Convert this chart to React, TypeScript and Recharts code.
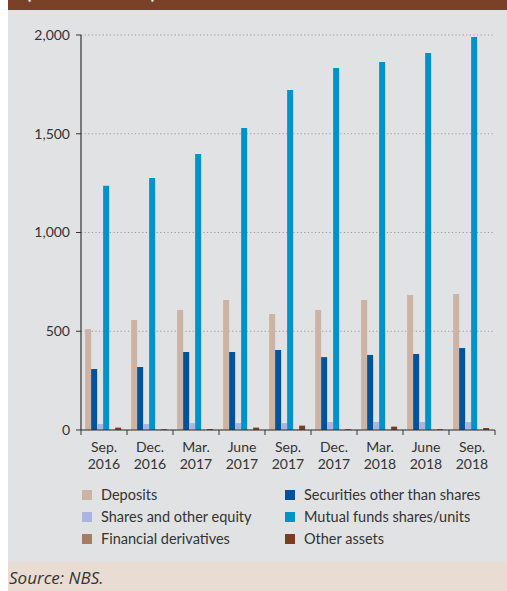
import React from "react";
import { BarChart, Bar, XAxis, YAxis, CartesianGrid } from "recharts";

const months = ["Sep.", "Dec.", "Mar.", "June", "Sep.", "Dec.", "Mar.", "June", "Sep."];
const years = ["2016", "2016", "2017", "2017", "2017", "2017", "2018", "2018", "2018"];

const deposits = [511, 557, 608, 658, 587, 608, 658, 683, 689];
const securities = [309, 319, 395, 395, 405, 369, 380, 385, 415];
const shares = [30, 30, 35, 35, 35, 40, 40, 40, 40];
const mutualFunds = [1237, 1276, 1397, 1529, 1722, 1833, 1863, 1909, 1990];
const derivatives = [1, 2, 1, 1, 2, 1, 1, 2, 1];
const otherAssets = [12, 4, 5, 12, 22, 4, 17, 4, 10];

const yTicks = [0, 500, 1000, 1500, 2000];

const seriesNames = [
  "Deposits",
  "Securities other than shares",
  "Shares and other equity",
  "Mutual funds shares/units",
  "Financial derivatives",
  "Other assets",
];
const seriesKeys = ["dep", "sec", "sha", "mf", "der", "oth"];
const seriesColors = ["#CDB3A4", "#00529B", "#A8B6DF", "#0093CB", "#A77C67", "#7C3B22"];

const data = months.map((m, i) => ({
  cat: m + "|" + years[i],
  dep: deposits[i],
  sec: securities[i],
  sha: shares[i],
  mf: mutualFunds[i],
  der: derivatives[i],
  oth: otherAssets[i],
}));

const FONT = "Lato, 'Noto Sans', sans-serif";
const TEXT = "#333333";

const XTick = (props: any) => {
  const { x, y, payload, index, visibleTicksCount } = props;
  const off = payload && typeof payload.offset === "number" ? payload.offset : 0;
  const [m, yr] = String(payload.value).split("|");
  const last = index === (visibleTicksCount ?? 9) - 1;
  return (
    <g>
      <line x1={x - off} x2={x - off} y1={y} y2={y + 5} stroke="#333" strokeWidth={1} />
      {last && <line x1={x + off} x2={x + off} y1={y} y2={y + 5} stroke="#333" strokeWidth={1} />}
      <text x={x} y={y + 22} textAnchor="middle" fontSize={14} fill={TEXT} fontFamily={FONT}>
        {m}
      </text>
      <text x={x} y={y + 39} textAnchor="middle" fontSize={14} fill={TEXT} fontFamily={FONT}>
        {yr}
      </text>
    </g>
  );
};

export default function App() {
  const legendOrder = [0, 1, 2, 3, 4, 5];
  return (
    <div
      style={{
        position: "absolute",
        left: 8,
        top: 0,
        width: 499,
        height: 591,
        background: "#E1E2E4",
        fontFamily: FONT,
        overflow: "hidden",
      }}
    >
      <div
        style={{
          position: "absolute",
          left: 0,
          top: 0,
          width: 499,
          height: 10,
          background: "#7B4128",
          overflow: "hidden",
        }}
      >
        <div
          style={{
            position: "absolute",
            left: 18,
            top: -20,
            color: "#ffffff",
            fontWeight: 700,
            fontSize: 19,
            whiteSpace: "nowrap",
            letterSpacing: 1,
          }}
        >
          (EUR millions)
        </div>
      </div>

      <div style={{ position: "absolute", left: 0, top: 10 }}>
        <BarChart
          width={499}
          height={470}
          data={data}
          margin={{ top: 25, right: 12, left: 0, bottom: 0 }}
          barCategoryGap="9%"
          barGap={0}
        >
          <CartesianGrid
            horizontal={true}
            vertical={false}
            stroke="#9a9a9a"
            strokeDasharray="1.2 2.4"
          />
          <XAxis
            dataKey="cat"
            height={50}
            interval={0}
            tickLine={false}
            tickSize={0}
            tickMargin={0}
            axisLine={{ stroke: "#333", strokeWidth: 1.2 }}
            tick={<XTick />}
          />
          <XAxis
            xAxisId="top"
            dataKey="cat"
            orientation="top"
            height={0}
            tick={false}
            tickLine={false}
            axisLine={{ stroke: "#333", strokeWidth: 1.2 }}
          />
          <YAxis
            width={73}
            domain={[0, 2000]}
            ticks={yTicks}
            interval={0}
            tickSize={5}
            tickMargin={6}
            tickFormatter={(v: number) => v.toLocaleString("en-US")}
            tick={{ fontSize: 14, fill: TEXT, fontFamily: FONT }}
            tickLine={{ stroke: "#333" }}
            axisLine={{ stroke: "#333", strokeWidth: 1.2 }}
          />
          <YAxis
            yAxisId="right"
            orientation="right"
            width={0}
            domain={[0, 2000]}
            tick={false}
            tickLine={false}
            axisLine={{ stroke: "#333", strokeWidth: 1.2 }}
          />
          {seriesKeys.map((k, i) => (
            <Bar key={k} dataKey={k} name={seriesNames[i]} fill={seriesColors[i]} isAnimationActive={false} />
          ))}
        </BarChart>
      </div>

      <div
        style={{
          position: "absolute",
          left: 74,
          top: 484,
          width: 420,
          display: "grid",
          gridTemplateColumns: "203px 217px",
          rowGap: 1,
        }}
      >
        {legendOrder.map((i) => (
          <div key={i} style={{ display: "flex", alignItems: "center", height: 21 }}>
            <span
              style={{
                display: "inline-block",
                width: 10,
                height: 10,
                background: seriesColors[i],
                marginRight: 9,
              }}
            />
            <span style={{ fontSize: 14.5, color: TEXT, whiteSpace: "nowrap" }}>{seriesNames[i]}</span>
          </div>
        ))}
      </div>

      <div
        style={{
          position: "absolute",
          left: 0,
          top: 562,
          width: 499,
          height: 29,
          background: "#E9DDD3",
        }}
      >
        <div
          style={{
            position: "absolute",
            left: 1,
            top: 4,
            fontStyle: "italic",
            fontSize: 17,
            color: TEXT,
            fontFamily: "'Open Sans', sans-serif",
          }}
        >
          Source: NBS.
        </div>
      </div>
    </div>
  );
}
